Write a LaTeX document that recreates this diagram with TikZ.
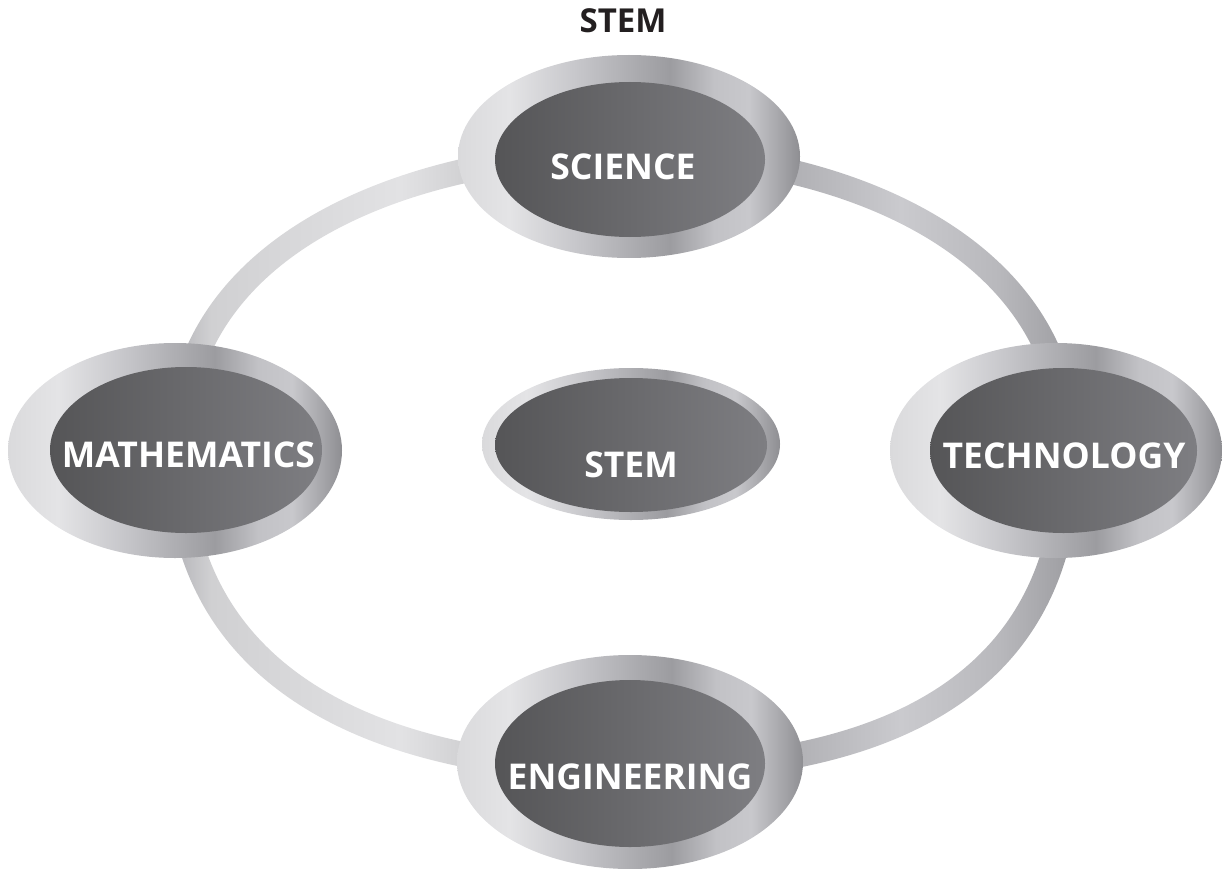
\documentclass[tikz,border=0pt]{standalone}
\usepackage{fontspec}
\setmainfont{Open Sans}
\usetikzlibrary{shapes.geometric}

\definecolor{m0}{HTML}{DADADC}
\definecolor{m1}{HTML}{E4E4E6}
\definecolor{m2}{HTML}{C6C6CA}
\definecolor{m3}{HTML}{A6A6AA}
\definecolor{m4}{HTML}{9C9CA0}
\definecolor{m5}{HTML}{C2C2C6}
\definecolor{m6}{HTML}{C8C8CC}
\definecolor{m7}{HTML}{A2A2A6}
\definecolor{m8}{HTML}{8E8E92}
\definecolor{t0}{HTML}{B0B0B4}
\definecolor{t1}{HTML}{B6B6BA}
\definecolor{t2}{HTML}{D0D0D2}
\definecolor{t3}{HTML}{E2E2E4}
\definecolor{t4}{HTML}{D2D2D4}
\definecolor{t5}{HTML}{C4C4C8}
\definecolor{t6}{HTML}{B2B2B6}
\definecolor{t7}{HTML}{CACACE}
\definecolor{t8}{HTML}{B8B8BC}
\definecolor{t9}{HTML}{9C9CA0}
\definecolor{innerL}{HTML}{555557}
\definecolor{innerR}{HTML}{7E7E82}
\definecolor{titlecol}{HTML}{231F20}

\pgfdeclarehorizontalshading{metal}{100bp}{color(0bp)=(m0); color(25bp)=(m0); color(32.5bp)=(m1); color(42.5bp)=(m2); color(52.5bp)=(m3); color(56bp)=(m4); color(62.5bp)=(m5); color(67.5bp)=(m6); color(72.5bp)=(m7); color(75bp)=(m8); color(100bp)=(m8)}
\pgfdeclarehorizontalshading{trackshade}{100bp}{color(0bp)=(t0); color(25bp)=(t0); color(26.4bp)=(t1); color(28.2bp)=(t2); color(38.2bp)=(t3); color(41.3bp)=(t4); color(50bp)=(t5); color(59.2bp)=(t6); color(64.5bp)=(t7); color(69.7bp)=(t8); color(73.7bp)=(t9); color(75bp)=(t9); color(100bp)=(t9)}

\tikzset{
  outerring/.style={ellipse, inner sep=0pt, shading=metal},
  innerdisc/.style={ellipse, inner sep=0pt, left color=innerL, right color=innerR},
  label/.style={inner sep=0pt, text=white, font=\bfseries\fontsize{35.5}{36}\selectfont},
  titletext/.style={inner sep=0pt, text=titlecol, font=\bfseries\fontsize{33}{33}\selectfont}
}

\begin{document}
\begin{tikzpicture}[x=1pt, y=-1pt]
\useasboundingbox (0,0) rectangle (1222,869);

% track coordinates (outer / inner edge of the ring)
\coordinate (oS) at (629,140.5);
\coordinate (oM) at (165.5,450);
\coordinate (oE) at (630,782.5);
\coordinate (oT) at (1080.5,450);
\coordinate (iS) at (629,165.5);
\coordinate (iM) at (190.5,450);
\coordinate (iE) at (630,757.5);
\coordinate (iT) at (1055.5,450);

\begin{scope}[even odd rule]
  \clip
    (oS) to[out=180,in=90,looseness=1.0] (oM)
         to[out=-90,in=180,looseness=1.1] (oE)
         to[out=0,in=-90,looseness=1.15] (oT)
         to[out=90,in=0,looseness=1.0] (oS) -- cycle
    (iS) to[out=0,in=90,looseness=1.0] (iT)
         to[out=-90,in=0,looseness=1.15] (iE)
         to[out=180,in=-90,looseness=1.1] (iM)
         to[out=90,in=180,looseness=1.0] (iS) -- cycle;
  \shade[shading=trackshade] (150,100) rectangle (1100,820);
\end{scope}

% outer rings
\node[outerring, minimum width=342pt, minimum height=203pt] (sciO) at (629,156.5) {};
\node[outerring, minimum width=334pt, minimum height=215pt] (matO) at (175,450.5) {};
\node[outerring, minimum width=332pt, minimum height=215pt] (tecO) at (1056,450.5) {};
\node[outerring, minimum width=346pt, minimum height=214pt] (engO) at (630,762) {};
\node[outerring, minimum width=298pt, minimum height=152pt] (stmO) at (631,444) {};

% inner discs
\node[innerdisc, minimum width=270pt, minimum height=155pt] (sciI) at (630,159.5) {};
\node[innerdisc, minimum width=272pt, minimum height=166pt] (matI) at (186,450) {};
\node[innerdisc, minimum width=267pt, minimum height=165pt] (tecI) at (1063.5,450.5) {};
\node[innerdisc, minimum width=270pt, minimum height=167pt] (engI) at (630,763.5) {};
\node[innerdisc, minimum width=272pt, minimum height=134pt] (stmI) at (631,445) {};

% labels
\node[label] (sciT) at (623,167) {SCIENCE};
\node[label] (matT) at (188.5,454.5) {MATHEMATICS};
\node[label] (tecT) at (1064,455.5) {TECHNOLOGY};
\node[label] (engT) at (630,777) {ENGINEERING};
\node[label] (stmT) at (631,464.5) {STEM};
\node[titletext] (title) at (623,21) {STEM};
\end{tikzpicture}
\end{document}
